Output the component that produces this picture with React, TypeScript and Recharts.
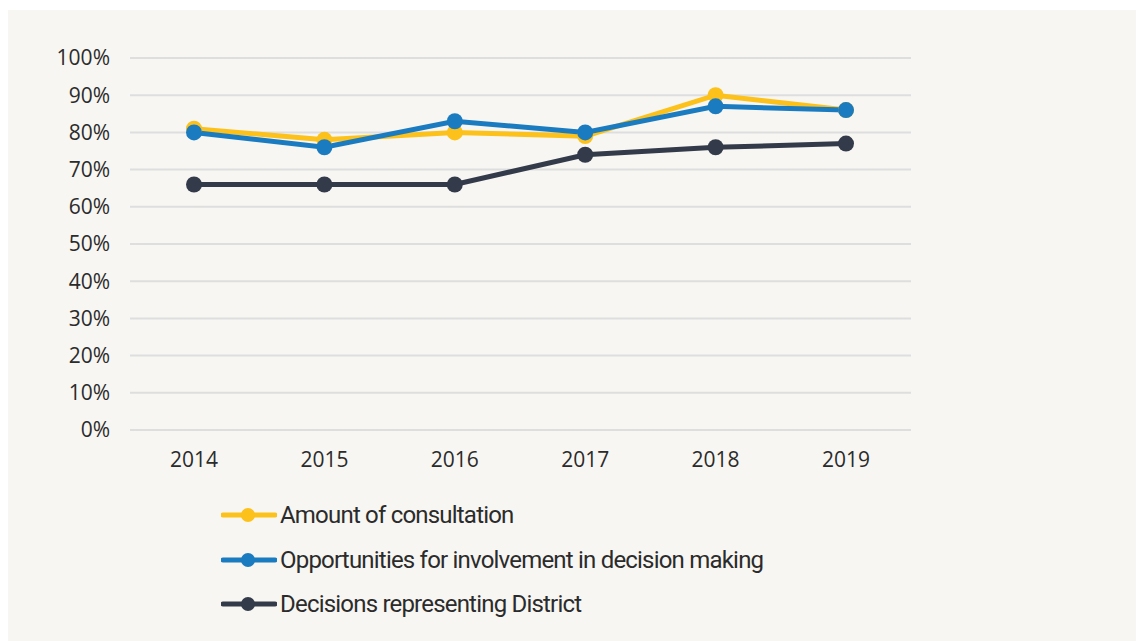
import { LineChart, Line, XAxis, YAxis, CartesianGrid, Legend } from 'recharts'

const years = ['2014', '2015', '2016', '2017', '2018', '2019']
const consultation = [81, 78, 80, 79, 90, 86]
const involvement = [80, 76, 83, 80, 87, 86]
const representing = [66, 66, 66, 74, 76, 77]
const yTicks = [0, 10, 20, 30, 40, 50, 60, 70, 80, 90, 100]

const seriesInfo = [
  { key: 'consultation', name: 'Amount of consultation', color: '#fcc11a' },
  { key: 'involvement', name: 'Opportunities for involvement in decision making', color: '#1a7bc0' },
  { key: 'representing', name: 'Decisions representing District', color: '#333a4a' },
]

const data = years.map((year, i) => ({
  year,
  consultation: consultation[i],
  involvement: involvement[i],
  representing: representing[i],
}))

function LegendBox() {
  return (
    <div>
      {seriesInfo.map((s) => (
        <div key={s.key} style={{ display: 'flex', alignItems: 'center', height: 44.5 }}>
          <svg width={56} height={16} style={{ marginRight: 3 }}>
            <line x1={2} y1={8} x2={54} y2={8} stroke={s.color} strokeWidth={5} strokeLinecap="round" />
            <circle cx={27} cy={8} r={7} fill={s.color} />
          </svg>
          <span style={{ fontFamily: 'Roboto, sans-serif', fontSize: 24, letterSpacing: -0.8, color: '#2b2b2b', lineHeight: 1 }}>
            {s.name}
          </span>
        </div>
      ))}
    </div>
  )
}

export default function App() {
  return (
    <div style={{ marginTop: 2, width: 1136, height: 631, background: '#f7f6f2' }}>
      <LineChart width={1136} height={631} data={data} margin={{ top: 48, right: 233, left: 0, bottom: 171 }}>
        <CartesianGrid vertical={false} stroke="#dedede" strokeWidth={2} />
        <XAxis
          dataKey="year"
          padding={{ left: 64, right: 65 }}
          axisLine={false}
          tickLine={false}
          tickSize={0}
          tickMargin={22}
          height={40}
          tick={{ fill: '#2b2b2b', fontSize: 21, fontFamily: "'Open Sans', sans-serif" }}
        />
        <YAxis
          width={122}
          domain={[0, 100]}
          ticks={yTicks}
          tickFormatter={(v) => `${v}%`}
          axisLine={false}
          tickLine={false}
          tickSize={0}
          tickMargin={20}
          tick={{ fill: '#2b2b2b', fontSize: 21, fontFamily: "'Open Sans', sans-serif" }}
        />
        <Legend
          layout="vertical"
          align="center"
          verticalAlign="middle"
          content={() => <LegendBox />}
          wrapperStyle={{ left: 213, top: 483, width: 700 }}
        />
        {seriesInfo.map((s) => (
          <Line
            key={s.key}
            dataKey={s.key}
            name={s.name}
            stroke={s.color}
            strokeWidth={5}
            dot={{ r: 8, fill: s.color, stroke: 'none' }}
            activeDot={false}
            isAnimationActive={false}
          />
        ))}
      </LineChart>
    </div>
  )
}
